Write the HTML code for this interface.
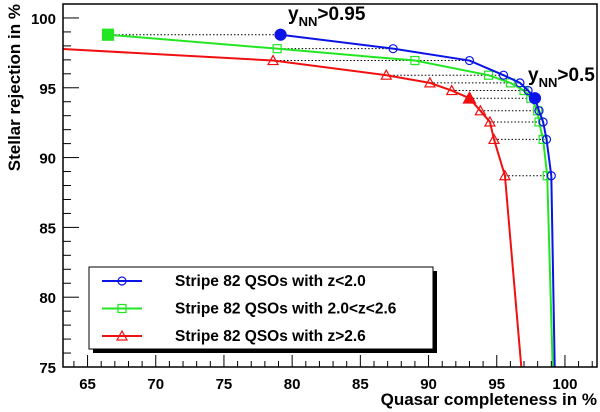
<!DOCTYPE html>
<html><head><meta charset="utf-8">
<style>
html,body{margin:0;padding:0;background:#fff;}
svg{display:block;font-family:"Liberation Sans",Arial,sans-serif;font-weight:bold;}
</style></head>
<body>
<svg id="chart" width="600" height="412" viewBox="0 0 600 412">
<defs><clipPath id="clip"><rect x="63" y="4" width="534" height="363"/></clipPath></defs>
<g id="plot" clip-path="url(#clip)"></g>
<g id="axes"></g>
<g id="legend"></g>
</svg>
<script>
const yLevels = [98.8, 97.8, 96.95, 95.9, 95.35, 94.8, 94.25, 93.35, 92.55, 91.3, 88.7];
const blueX  = [79.15, 87.4, 93.0, 95.5, 96.7, 97.3, 97.8, 98.1, 98.4, 98.65, 99.0];
const greenX = [66.5, 78.9, 89.0, 94.4, 96.0, 97.0, 97.5, 98.0, 98.1, 98.4, 98.7];
const redX   = [null, null, 78.6, 86.9, 90.1, 91.7, 93.0, 93.8, 94.5, 94.8, 95.6];
const blueEnd = [99.25, 75];
const greenEnd = [99.1, 75];
const redEnd = [96.8, 75];
const redStart = [60, 97.95];
const blueFilled = [0, 6];
const greenFilled = [0];
const redFilled = [6];
const xTicks = [65, 70, 75, 80, 85, 90, 95, 100];
const yTicks = [75, 80, 85, 90, 95, 100];
const seriesNames = ["Stripe 82 QSOs with z<2.0", "Stripe 82 QSOs with 2.0<z<2.6", "Stripe 82 QSOs with z>2.6"];

const XMIN = 63.2, XMAX = 102.35, YMIN = 75, YMAX = 101;
const L = 63, R = 597, T = 4, B = 367;
const sx = v => L + (v - XMIN) / (XMAX - XMIN) * (R - L);
const sy = v => B - (v - YMIN) / (YMAX - YMIN) * (B - T);
const NS = "http://www.w3.org/2000/svg";
function mk(tag, attrs, parent){const e=document.createElementNS(NS,tag);for(const k in attrs)e.setAttribute(k,attrs[k]);parent.appendChild(e);return e;}
const plot = document.getElementById('plot');
const axes = document.getElementById('axes');
const legend = document.getElementById('legend');

yLevels.forEach((y,i)=>{
  const xs=[blueX[i],greenX[i],redX[i]].filter(v=>v!==null);
  const d=mk('line',{x1:sx(Math.min(...xs)),x2:sx(Math.max(...xs)),y1:sy(y),y2:sy(y),stroke:'#000','stroke-width':1,'stroke-dasharray':'1.5,2'},plot);
  
  
});

const blueC='#0a14e6', greenC='#22e622', redC='#f01010';
function marker(kind,x,y,color,filled,parent){
  let m;
  if(kind==='circle') m=mk('circle',{cx:x,cy:y,r:filled?5.5:4,fill:filled?color:'#fff','fill-opacity':filled?1:0,stroke:color,'stroke-width':1.2},parent);
  else if(kind==='square'){const s=filled?11:8;m=mk('rect',{x:x-s/2,y:y-s/2,width:s,height:s,fill:filled?color:'none',stroke:color,'stroke-width':1.2},parent);}
  else {const s=filled?6:5;m=mk('polygon',{points:`${x},${y-s} ${x-s},${y+s*0.8} ${x+s},${y+s*0.8}`,fill:filled?color:'none',stroke:color,'stroke-width':1.2},parent);}
  return m;
}
function series(xs,start,end,color,kind,filled,name){
  const pts=[];
  if(start) pts.push([sx(start[0]),sy(start[1])]);
  xs.forEach((x,i)=>{if(x!==null)pts.push([sx(x),sy(yLevels[i])]);});
  pts.push([sx(end[0]),sy(end[1])]);
  const p=mk('polyline',{points:pts.map(p=>p.join(',')).join(' '),fill:'none',stroke:color,'stroke-width':2},plot);
  
  
  xs.forEach((x,i)=>{if(x===null)return;
    const m=marker(kind,sx(x),sy(yLevels[i]),color,filled.includes(i),plot);
    
    
  });
}
series(redX,redStart,redEnd,redC,'tri',redFilled,'red-series');
series(greenX,null,greenEnd,greenC,'square',greenFilled,'green-series');
series(blueX,null,blueEnd,blueC,'circle',blueFilled,'blue-series');

const fr=mk('rect',{x:L,y:T,width:R-L,height:B-T,fill:'none',stroke:'#000','stroke-width':1.5},axes);

for(let v=64;v<=102;v++){
  const major=v%5===0;
  mk('line',{x1:sx(v),x2:sx(v),y1:B,y2:B-(major?12:6),stroke:'#000','stroke-width':1},axes);
}
xTicks.forEach(v=>{const t=mk('text',{x:sx(v),y:389,'text-anchor':'middle','font-size':15,fill:'#000'},axes);t.textContent=v;
  });
for(let v=75;v<=101;v++){
  const major=v%5===0;
  mk('line',{x1:L,x2:L+(major?16:8),y1:sy(v),y2:sy(v),stroke:'#000','stroke-width':1},axes);
}
yTicks.forEach(v=>{const t=mk('text',{x:56,y:sy(v)+6,'text-anchor':'end','font-size':15,fill:'#000'},axes);t.textContent=v;
  });

const xt=mk('text',{x:597,y:405,'text-anchor':'end','font-size':17,fill:'#000'},axes);
xt.textContent='Quasar completeness in %';

const yt=mk('text',{x:0,y:0,'text-anchor':'end','font-size':17,fill:'#000',transform:'translate(20,4) rotate(-90)'},axes);
yt.textContent='Stellar rejection in %';


function annot(x,y,txt,name){
  const t=mk('text',{x:x,y:y,'font-size':19,fill:'#000'},axes);
  t.innerHTML='y<tspan dy="6" font-size="13">NN</tspan><tspan dy="-6">'+txt+'</tspan>';
  
}
annot(288,20,'&gt;0.95','annotation-095');
annot(528,81,'&gt;0.5','annotation-05');

mk('rect',{x:93,y:271,width:344,height:82,fill:'#000'},legend);
const lb=mk('rect',{x:89,y:267,width:344,height:82,fill:'#fff',stroke:'#000','stroke-width':1},legend);

const cols=[blueC,greenC,redC], kinds=['circle','square','tri'];
seriesNames.forEach((n,i)=>{
  const y=281+i*27.5;
  const g=mk('g',{},legend);
  
  
  mk('line',{x1:102,x2:142,y1:y,y2:y,stroke:cols[i],'stroke-width':2},g);
  marker(kinds[i],122,y,cols[i],false,g);
  const t=mk('text',{x:175,y:y+5,'font-size':15.5,fill:'#000'},g);t.textContent=n;
});
</script>
</body></html>
